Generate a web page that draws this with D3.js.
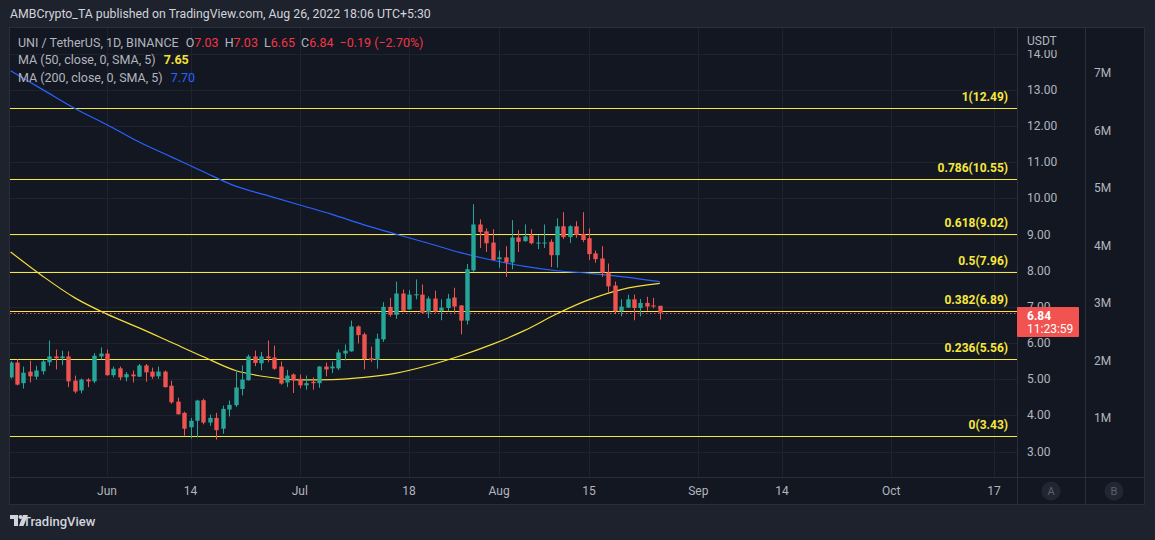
<!DOCTYPE html>
<html><head><meta charset="utf-8">
<script src="https://cdn.jsdelivr.net/npm/d3@7/dist/d3.min.js"></script>
<style>html,body{margin:0;padding:0;background:#1e222d;overflow:hidden}svg{display:block}text{font-family:Roboto,"Noto Sans",sans-serif;white-space:pre}</style>
</head><body>
<script>
// ---- data ----
const startDate = "2022-05-17"; // first candle, one candle per day
const opens  = [5.05,5.46,4.89,5.21,5.07,5.22,5.47,5.63,5.58,5.63,4.96,4.69,4.99,4.94,5.63,
  5.71,5.11,5.30,5.05,5.13,5.07,5.38,5.21,5.08,5.21,4.82,4.38,4.07,3.67,3.85,4.42,3.80,3.93,3.63,4.16,4.28,4.73,4.97,5.63,5.44,5.63,5.60,5.35,4.91,5.13,
  5.01,4.83,4.93,4.89,5.35,5.30,5.30,5.71,5.77,6.46,6.24,5.58,5.53,6.10,7.00,6.78,7.37,6.93,7.32,7.34,6.85,7.23,6.89,6.97,7.26,7.04,6.62,8.01,9.28,9.09,8.78,
  8.32,8.37,8.23,8.92,8.82,8.98,8.76,8.77,8.80,8.43,9.23,8.93,9.23,9.02,8.90,8.48,8.34,7.95,7.59,6.88,6.98,7.21,6.97,7.11,7.04,7.03];
const highs  = [5.50,5.55,5.35,5.51,5.37,5.53,6.07,5.82,5.79,5.77,5.10,5.02,5.03,5.72,5.88,
  5.82,5.35,5.35,5.20,5.24,5.42,5.42,5.32,5.35,5.24,4.96,4.49,4.10,3.93,4.43,4.46,4.02,4.07,4.27,4.41,5.25,5.38,5.68,5.79,5.75,6.07,5.93,5.49,5.26,5.16,
  5.13,5.10,5.05,5.36,5.46,5.49,5.82,5.96,6.62,6.49,6.29,5.90,6.26,7.13,7.25,7.70,7.48,7.46,7.76,7.62,7.29,7.45,7.21,7.36,7.53,7.05,8.19,9.84,9.42,9.17,9.15,
  8.56,8.68,9.40,9.12,9.28,9.15,8.98,9.28,8.87,9.45,9.62,9.26,9.37,9.62,9.17,8.56,8.68,8.20,7.70,7.21,7.34,7.34,7.22,7.28,7.25,7.03];
const lows   = [5.02,4.83,4.74,4.91,4.99,5.13,5.37,5.27,5.39,4.78,4.61,4.61,4.78,4.89,5.55,
  5.10,5.05,4.97,4.94,4.91,5.06,4.93,5.01,5.01,4.77,4.32,4.02,3.44,3.36,3.39,3.75,3.71,3.33,3.49,3.97,4.23,4.55,4.96,5.36,5.25,5.47,5.26,4.85,4.78,4.62,
  4.75,4.71,4.71,4.76,5.08,5.17,5.25,5.52,5.76,5.99,5.27,5.48,5.29,6.03,6.73,6.67,6.87,6.92,7.21,6.81,6.69,6.84,6.63,6.88,6.84,6.24,6.51,7.97,8.63,8.52,8.29,
  8.08,7.83,8.04,8.52,8.80,8.73,8.60,8.63,8.10,8.09,8.88,8.77,8.91,8.79,8.30,8.22,7.83,7.40,6.80,6.74,6.97,6.63,6.74,6.89,6.96,6.65];
const closes = [5.46,4.85,5.18,5.08,5.24,5.49,5.63,5.58,5.63,4.94,4.66,4.99,4.94,5.65,5.71,
  5.11,5.29,5.05,5.14,5.08,5.38,5.19,5.07,5.21,4.78,4.36,4.03,3.63,3.85,4.41,3.80,3.93,3.59,4.18,4.29,4.77,4.99,5.63,5.45,5.63,5.58,5.29,4.88,5.10,4.97,
  4.83,4.89,4.89,5.35,5.27,5.35,5.74,5.79,6.46,6.22,5.56,5.53,6.12,7.00,6.78,7.37,6.89,7.34,7.35,6.84,7.23,6.87,6.98,7.23,7.01,6.62,8.04,9.28,9.07,8.76,8.30,
  8.37,8.23,8.92,8.80,8.95,8.76,8.78,8.78,8.43,9.23,8.93,9.23,8.99,8.85,8.46,8.32,7.95,7.57,6.88,7.01,7.21,6.97,7.11,7.01,7.01,6.84];

const maDates = ["2022-05-17","2022-05-22","2022-05-27","2022-06-01","2022-06-06","2022-06-11","2022-06-16","2022-06-21","2022-06-26","2022-07-01","2022-07-06",
  "2022-07-11","2022-07-16","2022-07-21","2022-07-26","2022-07-31","2022-08-05","2022-08-10","2022-08-15","2022-08-20","2022-08-26"];
const ma50  = [8.52,7.85,7.25,6.80,6.42,6.02,5.62,5.24,5.06,4.98,4.99,5.05,5.17,5.38,5.65,5.97,6.35,6.81,7.20,7.48,7.65];
const ma200 = [13.53,13.01,12.49,12.04,11.56,11.15,10.74,10.34,10.08,9.82,9.56,9.27,9.01,8.76,8.50,8.29,8.12,8.00,7.93,7.84,7.70];

const fibLevels = [1, 0.786, 0.618, 0.5, 0.382, 0.236, 0];
const fibPrices = [12.49, 10.55, 9.02, 7.96, 6.89, 5.56, 3.43];

const priceTicks = [3,4,5,6,7,8,9,10,11,12,13,14];
const volumeTicks = [1,2,3,4,5,6,7]; // millions
const dateTicks = ["2022-06-01","2022-06-14","2022-07-01","2022-07-18","2022-08-01","2022-08-15","2022-09-01","2022-09-14","2022-10-01","2022-10-17"];
const lastPrice = 6.84;
const change = -0.19, changePct = -2.70;

// ---- layout ----
const W = 1155, H = 540;
const plot = {l: 10, r: 1017, t: 28, b: 477};
const COL = {bg:"#131722", outer:"#1e222d", grid:"#1f2330", border:"#2a2e39", text:"#b2b5be",
  up:"#26a69a", down:"#ef5350", fib:"#f7e83c", ma50:"#f5de3a", ma200:"#2962ff"};

const parse = d3.utcParse("%Y-%m-%d");
const day = 864e5;
const t0 = parse(startDate);
const candles = opens.map((o,i)=>({d:new Date(+t0 + i*day), o, h:highs[i], l:lows[i], c:closes[i]}));

const x = d3.scaleUtc().domain([parse("2022-06-01"), parse("2022-10-17")]).range([107, 994]);
const y = d3.scaleLinear().domain([3, 13]).range([451.5, 90]);
const yVol = d3.scaleLinear().domain([1, 7]).range([418.3, 73.3]);
const pxDay = x(new Date(+parse("2022-06-01")+day)) - x(parse("2022-06-01"));
const bw = Math.max(1, pxDay*0.68);

const svg = d3.select("body").append("svg").attr("width",W).attr("height",H);
svg.append("rect").attr("width",W).attr("height",H).attr("fill",COL.outer);
svg.append("rect").attr("x",9.5).attr("y",27.5).attr("width",1135).attr("height",477)
  .attr("fill",COL.bg).attr("stroke",COL.border);

const defs = svg.append("defs");
defs.append("clipPath").attr("id","pc").append("rect")
  .attr("x",plot.l).attr("y",plot.t).attr("width",plot.r-plot.l).attr("height",plot.b-plot.t);
defs.append("clipPath").attr("id","ac").append("rect")
  .attr("x",plot.r).attr("y",50).attr("width",70).attr("height",plot.b-50);

// grid
const g = svg.append("g").attr("clip-path","url(#pc)");
g.selectAll(".hg").data(priceTicks).join("line")
  .attr("x1",plot.l).attr("x2",plot.r).attr("y1",d=>Math.round(y(d))+0.5).attr("y2",d=>Math.round(y(d))+0.5)
  .attr("stroke",COL.grid);
g.selectAll(".vg").data(dateTicks).join("line")
  .attr("x1",d=>Math.round(x(parse(d)))+0.5).attr("x2",d=>Math.round(x(parse(d)))+0.5)
  .attr("y1",plot.t).attr("y2",plot.b).attr("stroke",COL.grid);

// fib lines
g.selectAll(".fib").data(fibPrices).join("line")
  .attr("x1",plot.l).attr("x2",plot.r).attr("y1",d=>Math.round(y(d))+0.5).attr("y2",d=>Math.round(y(d))+0.5)
  .attr("stroke",COL.fib).attr("stroke-width",1.2);

// last price dotted line
g.append("line").attr("x1",plot.l).attr("x2",plot.r)
  .attr("y1",Math.round(y(lastPrice))+0.5).attr("y2",Math.round(y(lastPrice))+0.5)
  .attr("stroke",COL.down).attr("stroke-dasharray","1.5,2.5");

// MAs
const maPts = maDates.map(parse);
const line = d3.line().curve(d3.curveMonotoneX);
g.append("path").attr("d",line(maPts.map((d,i)=>[x(d),y(ma200[i])])))
  .attr("fill","none").attr("stroke",COL.ma200).attr("stroke-width",1.2);
g.append("path").attr("d",line(maPts.map((d,i)=>[x(d),y(ma50[i])])))
  .attr("fill","none").attr("stroke",COL.ma50).attr("stroke-width",1.2);

// candles
const cg = g.append("g");
cg.selectAll(".wick").data(candles).join("line")
  .attr("x1",d=>Math.round(x(d.d))+0.5).attr("x2",d=>Math.round(x(d.d))+0.5)
  .attr("y1",d=>y(d.h)).attr("y2",d=>y(d.l))
  .attr("stroke",d=>d.c>=d.o?COL.up:COL.down);
cg.selectAll(".body").data(candles).join("rect")
  .attr("x",d=>Math.round(x(d.d))+0.5-bw/2).attr("width",bw)
  .attr("y",d=>y(Math.max(d.o,d.c))).attr("height",d=>Math.max(1,Math.abs(y(d.o)-y(d.c))))
  .attr("fill",d=>d.c>=d.o?COL.up:COL.down);

// fib labels
svg.append("g").selectAll("text").data(fibPrices).join("text")
  .attr("x",1008).attr("y",d=>y(d)-11).attr("text-anchor","end").attr("dominant-baseline","central")
  .attr("fill",COL.fib).attr("font-size",12).attr("font-weight","bold")
  .text((d,i)=>`${fibLevels[i]}(${d3.format(".2f")(d)})`);

// axis panel borders
svg.append("line").attr("x1",plot.r+0.5).attr("x2",plot.r+0.5).attr("y1",28).attr("y2",505).attr("stroke",COL.border);
svg.append("line").attr("x1",1085.5).attr("x2",1085.5).attr("y1",28).attr("y2",505).attr("stroke",COL.border);
svg.append("line").attr("x1",10).attr("x2",1144).attr("y1",477.5).attr("y2",477.5).attr("stroke",COL.border);

// price axis (the 7.00 label sits behind the last-price tag, as in the source)
const ly = Math.round(y(lastPrice));
const pa = svg.append("g").attr("clip-path","url(#ac)");
pa.selectAll("text").data(priceTicks).join("text")
  .attr("x",1027).attr("y",d=>y(d)).attr("dominant-baseline","central")
  .attr("fill",COL.text).attr("font-size",12).text(d=>d3.format(".2f")(d));
svg.append("text").attr("x",1027).attr("y",41).attr("dominant-baseline","central")
  .attr("fill",COL.text).attr("font-size",12).text("USDT");

// volume axis
svg.append("g").selectAll("text").data(volumeTicks).join("text")
  .attr("x",1094).attr("y",d=>yVol(d)).attr("dominant-baseline","central")
  .attr("fill",COL.text).attr("font-size",12).text(d=>d+"M");

// time axis
const fmt = d=>d.getUTCDate()===1 ? d3.utcFormat("%b")(d) : d3.utcFormat("%-d")(d);
svg.append("g").selectAll("text").data(dateTicks).join("text")
  .attr("x",d=>x(parse(d))).attr("y",491).attr("text-anchor","middle").attr("dominant-baseline","central")
  .attr("fill",COL.text).attr("font-size",12).text(d=>fmt(parse(d)));
[["A",1051],["B",1114]].forEach(([t,cx])=>{
  svg.append("circle").attr("cx",cx).attr("cy",491).attr("r",9.5).attr("fill","#222633");
  svg.append("text").attr("x",cx).attr("y",491).attr("text-anchor","middle").attr("dominant-baseline","central")
    .attr("fill","#5d606b").attr("font-size",11).text(t);
});

// last price label
svg.append("rect").attr("x",1017).attr("y",ly-6).attr("width",62).attr("height",30).attr("fill","#f05350").attr("rx",1);
svg.append("text").attr("x",1027).attr("y",ly+3).attr("dominant-baseline","central").attr("fill","#fff")
  .attr("font-size",12).attr("font-weight","bold").text(d3.format(".2f")(lastPrice));
svg.append("text").attr("x",1027).attr("y",ly+16).attr("dominant-baseline","central").attr("fill","#fff")
  .attr("font-size",12).text("11:23:59");

// header
svg.append("text").attr("x",10).attr("y",14).attr("dominant-baseline","central").attr("fill","#d1d4dc")
  .attr("font-size",12.3).text("AMBCrypto_TA published on TradingView.com, Aug 26, 2022 18:06 UTC+5:30");

// legend
const last = candles[candles.length-1];
const leg = svg.append("text").attr("x",18).attr("y",42).attr("dominant-baseline","central").attr("font-size",12.5).attr("fill","#b2b5be");
leg.append("tspan").text("UNI / TetherUS, 1D, BINANCE");
[["O",last.o],["H",last.h],["L",last.l],["C",last.c]].forEach(([k,v],i)=>{
  leg.append("tspan").attr("dx",i===0?7:6).text(k);
  leg.append("tspan").attr("fill","#f23645").text(d3.format(".2f")(v));
});
leg.append("tspan").attr("dx",6).attr("fill","#f23645")
  .text(`${d3.format(".2f")(change).replace("-","\u2212")} (${d3.format(".2f")(changePct).replace("-","\u2212")}%)`);
const l2 = svg.append("text").attr("x",18).attr("y",59).attr("dominant-baseline","central").attr("font-size",12.5).attr("fill","#b2b5be");
l2.append("tspan").text("MA (50, close, 0, SMA, 5)");
l2.append("tspan").attr("dx",8).attr("fill","#f5e13a").attr("font-weight","bold").text(d3.format(".2f")(ma50[ma50.length-1]));
const l3 = svg.append("text").attr("x",18).attr("y",77).attr("dominant-baseline","central").attr("font-size",12.5).attr("fill","#b2b5be");
l3.append("tspan").text("MA (200, close, 0, SMA, 5)");
l3.append("tspan").attr("dx",8).attr("fill","#2962ff").text(d3.format(".2f")(ma200[ma200.length-1]));

// footer logo
const lg = svg.append("g").attr("transform","translate(10,515)").attr("fill","#d1d4dc");
lg.append("path").attr("d","M0,0 H8 V11 H4 V4 H0 Z");
lg.append("circle").attr("cx",10.5).attr("cy",2).attr("r",2);
lg.append("path").attr("d","M13,0 H18 L13.5,11 H9 Z");
svg.append("text").attr("x",23).attr("y",521).attr("dominant-baseline","central").attr("fill","#d1d4dc")
  .attr("font-size",13).attr("font-weight","500").text("TradingView");
</script>
</body></html>
